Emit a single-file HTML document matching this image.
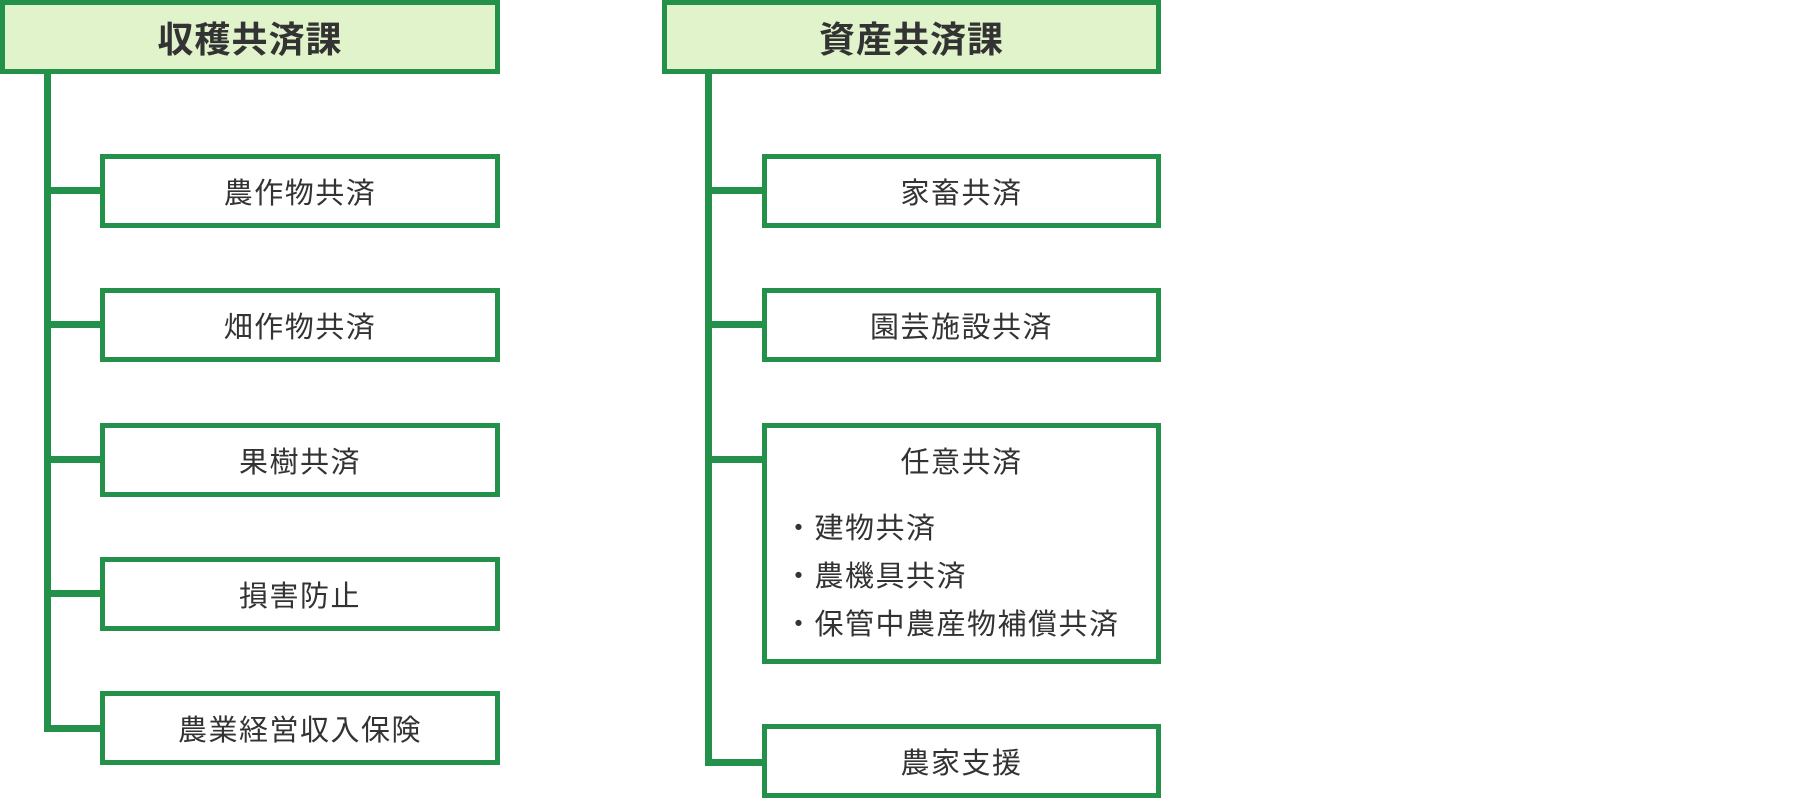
<!DOCTYPE html>
<html><head><meta charset="utf-8"><style>
html,body{margin:0;padding:0;background:#fff;}
body{width:1820px;height:798px;position:relative;overflow:hidden;font-family:"Liberation Sans","Noto Sans CJK JP",sans-serif;color:#333;}
.b{position:absolute;box-sizing:border-box;border:5px solid #24914a;background:#fff;display:flex;align-items:center;justify-content:center;font-size:29px;letter-spacing:1.5px;}
.h{background:#e0f3cb;font-size:36px;font-weight:bold;letter-spacing:1px;}
.l{position:absolute;background:#24914a;}
.t{position:absolute;font-size:29px;white-space:nowrap;letter-spacing:1.5px;}
</style></head><body>
<div class="b h" style="left:0;top:0;width:500px;height:74px;">収穫共済課</div>
<div class="l" style="left:44px;top:70px;width:7px;height:662px;"></div>
<div class="l" style="left:44px;top:187px;width:60px;height:7px;"></div>
<div class="l" style="left:44px;top:321px;width:60px;height:7px;"></div>
<div class="l" style="left:44px;top:456px;width:60px;height:7px;"></div>
<div class="l" style="left:44px;top:590px;width:60px;height:7px;"></div>
<div class="l" style="left:44px;top:725px;width:60px;height:7px;"></div>
<div class="b" style="left:100px;top:154px;width:400px;height:74px;">農作物共済</div>
<div class="b" style="left:100px;top:288px;width:400px;height:74px;">畑作物共済</div>
<div class="b" style="left:100px;top:423px;width:400px;height:74px;">果樹共済</div>
<div class="b" style="left:100px;top:557px;width:400px;height:74px;">損害防止</div>
<div class="b" style="left:100px;top:691px;width:400px;height:74px;">農業経営収入保険</div>

<div class="b h" style="left:662px;top:0;width:499px;height:74px;">資産共済課</div>
<div class="l" style="left:705px;top:70px;width:7px;height:696px;"></div>
<div class="l" style="left:705px;top:187px;width:60px;height:7px;"></div>
<div class="l" style="left:705px;top:321px;width:60px;height:7px;"></div>
<div class="l" style="left:705px;top:456px;width:60px;height:7px;"></div>
<div class="l" style="left:705px;top:759px;width:60px;height:7px;"></div>
<div class="b" style="left:762px;top:154px;width:399px;height:74px;">家畜共済</div>
<div class="b" style="left:762px;top:288px;width:399px;height:74px;">園芸施設共済</div>
<div class="b" style="left:762px;top:423px;width:399px;height:241px;"></div>
<div class="t" style="left:762px;width:399px;text-align:center;top:439px;">任意共済</div>
<div class="t" style="left:784px;top:505px;">・建物共済</div>
<div class="t" style="left:784px;top:553px;">・農機具共済</div>
<div class="t" style="left:784px;top:601px;">・保管中農産物補償共済</div>
<div class="b" style="left:762px;top:724px;width:399px;height:74px;">農家支援</div>
</body></html>
